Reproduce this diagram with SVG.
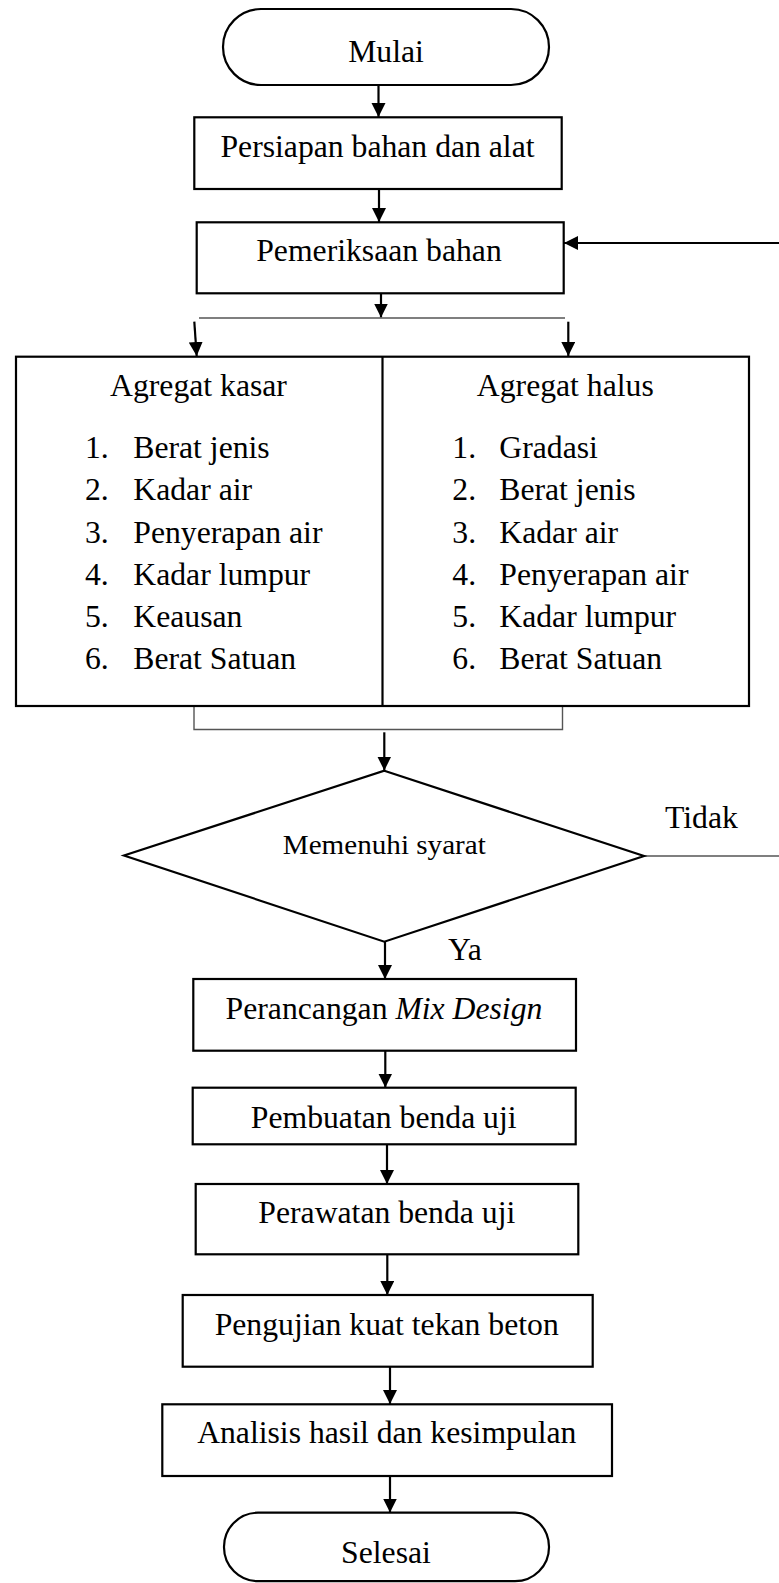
<svg xmlns="http://www.w3.org/2000/svg" width="779" height="1583" viewBox="0 0 779 1583">
<style>
.shape{fill:#fff;stroke:#000;stroke-width:2.2}
.t{font-family:"Liberation Serif","Times New Roman",serif;font-size:31.7px;fill:#000}
.c{text-anchor:middle}
.ln{fill:none;stroke:#000;stroke-width:2.2}
.thin{fill:none;stroke:#555;stroke-width:1.4}
</style>
<defs>
<marker id="ah" markerUnits="userSpaceOnUse" markerWidth="15" markerHeight="15" refX="14" refY="7" orient="auto">
<path d="M0,0 L14,7 L0,14 z" fill="#000"/>
</marker>
</defs>
<rect width="779" height="1583" fill="#fff"/>
<g id="connectors">
<line class="ln" x1="378.5" y1="85" x2="378.5" y2="117" marker-end="url(#ah)"/>
<line class="ln" x1="379" y1="189" x2="379" y2="222" marker-end="url(#ah)"/>
<line class="ln" x1="381" y1="293.5" x2="381" y2="317.5" marker-end="url(#ah)"/>
<line class="thin" x1="199" y1="318" x2="565" y2="318"/>
<line class="ln" x1="194.3" y1="321.7" x2="196.7" y2="356" marker-end="url(#ah)"/>
<line class="ln" x1="568.3" y1="321.7" x2="568.3" y2="356" marker-end="url(#ah)"/>
<path class="thin" d="M194,706 V729.5 H562.5 V706"/>
<line class="ln" x1="384.3" y1="732.3" x2="384.3" y2="770.5" marker-end="url(#ah)"/>
<line class="ln" x1="385" y1="942" x2="385" y2="979" marker-end="url(#ah)"/>
<line class="ln" x1="385.3" y1="1051" x2="385.3" y2="1087.5" marker-end="url(#ah)"/>
<line class="ln" x1="387" y1="1144.5" x2="387" y2="1184" marker-end="url(#ah)"/>
<line class="ln" x1="387.3" y1="1254.5" x2="387.3" y2="1295" marker-end="url(#ah)"/>
<line class="ln" x1="390" y1="1367" x2="390" y2="1404" marker-end="url(#ah)"/>
<line class="ln" x1="390" y1="1476" x2="390" y2="1512.5" marker-end="url(#ah)"/>
<line class="thin" x1="644" y1="856" x2="779" y2="856"/>
<line class="ln" x1="779" y1="243" x2="564" y2="243" marker-end="url(#ah)"/>
<text class="t" x="665" y="828">Tidak</text>
<text class="t" x="448" y="960">Ya</text>
</g>
<g id="mulai">
<rect class="shape" x="223" y="9" width="326" height="76" rx="38" ry="38"/>
<text class="t c" x="386" y="62">Mulai</text>
</g>
<g id="persiapan">
<rect class="shape" x="194.3" y="117.3" width="367.4" height="71.7"/>
<text class="t c" x="377.5" y="157">Persiapan bahan dan alat</text>
</g>
<g id="pemeriksaan">
<rect class="shape" x="196.7" y="222.3" width="367" height="71"/>
<text class="t c" x="379" y="261">Pemeriksaan bahan</text>
</g>
<g id="agregat">
<rect class="shape" x="16" y="356.7" width="733" height="349.3"/>
<line class="ln" x1="382.5" y1="356.7" x2="382.5" y2="706"/>
<text class="t c" x="198.5" y="396">Agregat kasar</text>
<text class="t" x="85" y="458.3">1.</text><text class="t" x="133.3" y="458.3">Berat jenis</text>
<text class="t" x="85" y="500.3">2.</text><text class="t" x="133.3" y="500.3">Kadar air</text>
<text class="t" x="85" y="542.5">3.</text><text class="t" x="133.3" y="542.5">Penyerapan air</text>
<text class="t" x="85" y="584.5">4.</text><text class="t" x="133.3" y="584.5">Kadar lumpur</text>
<text class="t" x="85" y="626.5">5.</text><text class="t" x="133.3" y="626.5">Keausan</text>
<text class="t" x="85" y="668.5">6.</text><text class="t" x="133.3" y="668.5">Berat Satuan</text>
<text class="t c" x="565.3" y="396">Agregat halus</text>
<text class="t" x="452.3" y="458.3">1.</text><text class="t" x="499.3" y="458.3">Gradasi</text>
<text class="t" x="452.3" y="500.3">2.</text><text class="t" x="499.3" y="500.3">Berat jenis</text>
<text class="t" x="452.3" y="542.5">3.</text><text class="t" x="499.3" y="542.5">Kadar air</text>
<text class="t" x="452.3" y="584.5">4.</text><text class="t" x="499.3" y="584.5">Penyerapan air</text>
<text class="t" x="452.3" y="626.5">5.</text><text class="t" x="499.3" y="626.5">Kadar lumpur</text>
<text class="t" x="452.3" y="668.5">6.</text><text class="t" x="499.3" y="668.5">Berat Satuan</text>
</g>
<g id="memenuhi">
<polygon class="shape" points="384.3,770.7 644,856 384.3,941.7 124,855.5"/>
<text class="t c" x="384.3" y="854" style="font-size:28px" textLength="203" lengthAdjust="spacingAndGlyphs">Memenuhi syarat</text>
</g>
<g id="perancangan">
<rect class="shape" x="193.3" y="979" width="382.7" height="71.7"/>
<text class="t c" x="384" y="1019">Perancangan <tspan font-style="italic">Mix Design</tspan></text>
</g>
<g id="pembuatan">
<rect class="shape" x="192.7" y="1087.7" width="383" height="56.6"/>
<text class="t c" x="383.7" y="1127.7">Pembuatan benda uji</text>
</g>
<g id="perawatan">
<rect class="shape" x="195.7" y="1184" width="382.6" height="70.3"/>
<text class="t c" x="386.8" y="1223.3">Perawatan benda uji</text>
</g>
<g id="pengujian">
<rect class="shape" x="182.7" y="1295" width="410" height="71.7"/>
<text class="t c" x="386.7" y="1335">Pengujian kuat tekan beton</text>
</g>
<g id="analisis">
<rect class="shape" x="162.3" y="1404.3" width="449.7" height="71.7"/>
<text class="t c" x="386.8" y="1443.3">Analisis hasil dan kesimpulan</text>
</g>
<g id="selesai">
<rect class="shape" x="224" y="1512.7" width="325" height="68.5" rx="34" ry="34"/>
<text class="t c" x="386" y="1563.3">Selesai</text>
</g>
</svg>
